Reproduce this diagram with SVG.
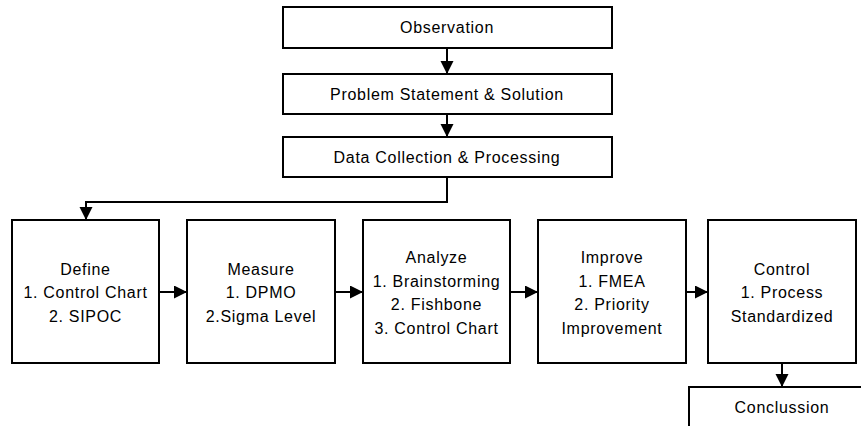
<svg xmlns="http://www.w3.org/2000/svg" width="861" height="426" viewBox="0 0 861 426">
<defs>
<style>
.box{fill:#fff;stroke:#000;stroke-width:2}
.t{font-family:"Liberation Sans",Arial,sans-serif;font-size:16px;letter-spacing:0.7px;fill:#000;text-anchor:middle}
.c{fill:none;stroke:#000;stroke-width:2}
</style>
<marker id="ah" markerUnits="userSpaceOnUse" markerWidth="14" markerHeight="14" refX="13" refY="6.5" orient="auto">
<path d="M0,0 L13,6.5 L0,13 Z" fill="#000"/>
</marker>
</defs>
<rect width="861" height="426" fill="#fff"/>
<g id="connectors">
<line class="c" x1="447" y1="48" x2="447" y2="74" marker-end="url(#ah)"/>
<line class="c" x1="447" y1="114" x2="447" y2="137" marker-end="url(#ah)"/>
<polyline class="c" points="447,177 447,202 86,202 86,220" marker-end="url(#ah)"/>
<line class="c" x1="159" y1="292" x2="187" y2="292" marker-end="url(#ah)"/>
<line class="c" x1="335" y1="292" x2="363" y2="292" marker-end="url(#ah)"/>
<line class="c" x1="510" y1="292" x2="538" y2="292" marker-end="url(#ah)"/>
<line class="c" x1="686" y1="292" x2="708" y2="292" marker-end="url(#ah)"/>
<line class="c" x1="782" y1="363" x2="782" y2="387" marker-end="url(#ah)"/>
</g>
<g id="observation">
<rect class="box" x="283" y="7" width="329" height="41"/>
<text class="t" x="447" y="33">Observation</text>
</g>
<g id="problem">
<rect class="box" x="283" y="74" width="329" height="40"/>
<text class="t" x="447" y="100">Problem Statement &amp; Solution</text>
</g>
<g id="data">
<rect class="box" x="283" y="137" width="329" height="40"/>
<text class="t" x="447" y="163">Data Collection &amp; Processing</text>
</g>
<g id="define">
<rect class="box" x="12" y="220" width="147" height="143"/>
<text class="t" x="85.5" y="275">Define</text>
<text class="t" x="85.5" y="298">1. Control Chart</text>
<text class="t" x="85.5" y="322">2. SIPOC</text>
</g>
<g id="measure">
<rect class="box" x="187" y="220" width="148" height="143"/>
<text class="t" x="261" y="275">Measure</text>
<text class="t" x="261" y="298">1. DPMO</text>
<text class="t" x="261" y="322">2.Sigma Level</text>
</g>
<g id="analyze">
<rect class="box" x="363" y="220" width="147" height="143"/>
<text class="t" x="436.5" y="263">Analyze</text>
<text class="t" x="436.5" y="286.5">1. Brainstorming</text>
<text class="t" x="436.5" y="310">2. Fishbone</text>
<text class="t" x="436.5" y="333.5">3. Control Chart</text>
</g>
<g id="improve">
<rect class="box" x="538" y="220" width="148" height="143"/>
<text class="t" x="612" y="263">Improve</text>
<text class="t" x="612" y="286.5">1. FMEA</text>
<text class="t" x="612" y="310">2. Priority</text>
<text class="t" x="612" y="333.5">Improvement</text>
</g>
<g id="control">
<rect class="box" x="708" y="220" width="148" height="143"/>
<text class="t" x="782" y="275">Control</text>
<text class="t" x="782" y="298">1. Process</text>
<text class="t" x="782" y="322">Standardized</text>
</g>
<g id="conclussion">
<rect class="box" x="689" y="387" width="190" height="60"/>
<text class="t" x="782" y="413">Conclussion</text>
</g>
</svg>
